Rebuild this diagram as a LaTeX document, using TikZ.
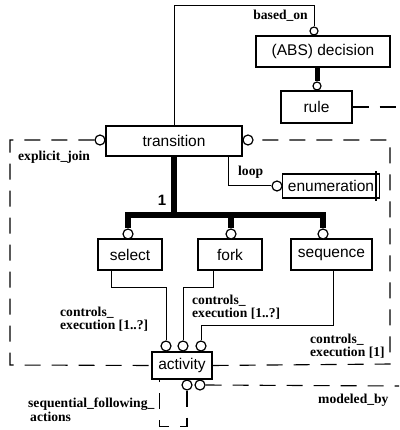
\documentclass[tikz,border=0pt]{standalone}
\usepackage{fontspec}
\setmainfont{Liberation Serif}
\newfontfamily\boxfont{Liberation Sans}
\begin{document}
\begin{tikzpicture}[x=1pt,y=-1pt,
  entity/.style={draw,line width=1.2pt,rectangle,inner sep=0pt,
    font=\boxfont\fontsize{15.5}{18}\selectfont},
  port/.style={draw,line width=1.2pt,circle,fill=white,inner sep=0pt,minimum size=10pt},
  smallport/.style={port,minimum size=8pt},
  link/.style={line width=1pt},
  heavy/.style={line width=6pt,line join=miter},
  boundary/.style={line width=1.1pt,dash pattern=on 16pt off 11pt},
  lbl/.style={inner sep=0pt,font=\bfseries\fontsize{13.6}{13}\selectfont,align=left}]
\useasboundingbox (0,0) rectangle (399,430);

% entities
\node[entity,minimum width=134pt,minimum height=31pt] (decision) at (323,51.5) {(ABS) decision};
\node[entity,minimum width=71pt,minimum height=32pt] (rule) at (316.5,107) {rule};
\node[entity,minimum width=136pt,minimum height=30pt] (transition) at (174,141) {transition};
\node[entity,minimum width=97pt,minimum height=24pt] (enumeration) at (331,186) {enumeration};
\node[entity,minimum width=64pt,minimum height=31pt] (select) at (130,254.5) {select};
\node[entity,minimum width=64pt,minimum height=31pt] (fork) at (230,254.5) {fork};
\node[entity,minimum width=81pt,minimum height=31pt] (sequence) at (331.5,254.5) {sequence};
\node[entity,minimum width=60pt,minimum height=27pt] (activity) at (182,365.5) {activity};

% extra bar inside the right edge of enumeration
\draw[line width=1.6pt] ([xshift=-4pt,yshift=2pt]enumeration.north east) -- ([xshift=-4pt,yshift=-2pt]enumeration.south east);

% connection ports
\node[smallport] (decc) at (314,31) {};
\node[smallport] (rulec) at (317,86) {};
\node[port] (tlc) at (100,140) {};
\node[port] (trc) at (248,140) {};
\node[port] (enumc) at (277,186) {};
\node[port] (selc) at (128,234) {};
\node[port] (forkc) at (231,234) {};
\node[port] (seqc) at (323,234) {};
\node[port] (a1) at (166,346) {};
\node[port] (a2) at (183,346) {};
\node[port] (a3) at (201,346) {};
\node[port] (b1) at (187,385) {};
\node[port] (b2) at (200,385) {};

% free ends
\coordinate (bo) at (314,6);
\coordinate (bar) at (174,215);
\coordinate (ruleend) at (399,107);
\coordinate (modend) at (399,386);
\coordinate (ctl) at (10,140);
\coordinate (cbl) at (10,365);
\coordinate (cbr) at (390,364);
\coordinate (ctr) at (390,140);

% based_on
\draw[link] (transition.north) |- (bo) -- (decc.north);
\node[lbl,anchor=east] at (308,16) {based\_on};

% decision -> rule
\draw[line width=5pt] (decision.south -| rulec) -- (rulec.north);
\draw[boundary] (rule.east) -- (ruleend);

% explicit_join boundary
\draw[boundary] (tlc.west) -- (ctl) -- (cbl) -- (activity.west);
\draw[boundary] (activity.east) -- (cbr) -- (ctr) -- (trc.east);
\node[lbl,anchor=west] at (18,157) {explicit\_join};

% specialisation tree
\draw[heavy] (transition.south) -- (bar);
\draw[heavy] (selc.north) -- (selc |- bar) -- (seqc |- bar) -- (seqc.north);
\draw[heavy] (forkc.north) -- (forkc |- bar);
\node[inner sep=0pt,font=\boxfont\bfseries\fontsize{15}{18}\selectfont] at (162,200) {1};

% loop
\draw[link] ([xshift=-14pt]transition.south east) |- (enumc.west);
\node[lbl,anchor=west] at (238,172) {loop};

% controls_execution
\draw[link] ([xshift=14pt]select.south west) -- ++(0,17) -| (a1.north);
\draw[link] ([xshift=16pt]fork.south west) -- ++(0,17) -| (a2.north);
\draw[link] ([xshift=1.5pt]sequence.south) -- ++(0,55) -| (a3.north);
\node[lbl,anchor=west] at (60,319.5) {controls\_\\execution [1..?]};
\node[lbl,anchor=west] at (192,307.5) {controls\_\\execution [1..?]};
\node[lbl,anchor=west] at (310,346) {controls\_\\execution [1]};

% sequential_following_actions
\draw[boundary] (b1.south) -- ++(0,36) -| ([xshift=8pt]activity.south west);
\node[lbl,anchor=west,font=\bfseries\fontsize{13.6}{14}\selectfont] at (28,410) {sequential\_following\_\\\hspace{2pt}actions};

% modeled_by
\draw[boundary] (b2.east) -- (modend);
\node[lbl,anchor=west] at (318,400) {modeled\_by};
\end{tikzpicture}
\end{document}
